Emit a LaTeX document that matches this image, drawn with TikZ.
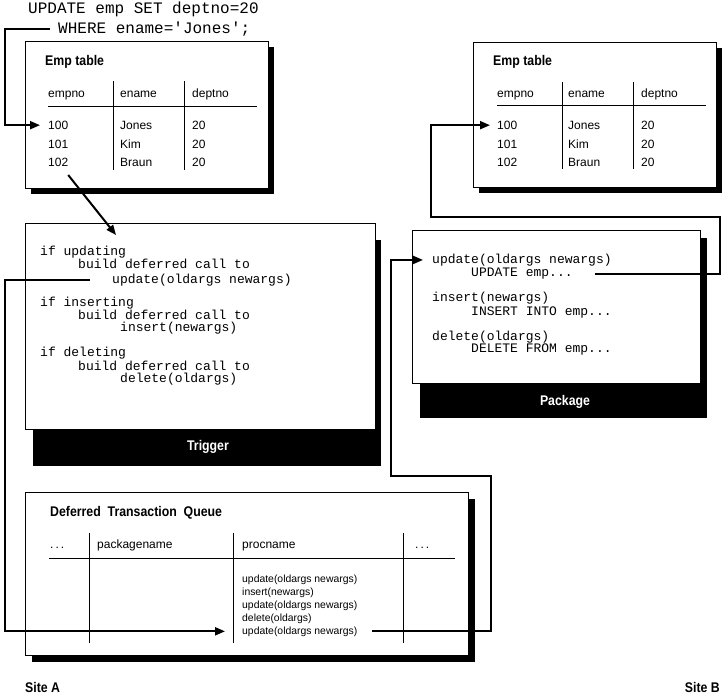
\documentclass[tikz,border=0pt]{standalone}
\usepackage{fontspec}
\setmainfont{Liberation Sans}
\setmonofont{Liberation Mono}
\newfontfamily\bcond[FakeStretch=0.88]{Liberation Sans Bold}
\usetikzlibrary{arrows.meta}
\begin{document}
\begin{tikzpicture}[x=1pt,y=-1pt,
  box/.style={draw=black,line width=0.8pt,fill=white},
  shade/.style={fill=black},
  grid/.style={line width=0.8pt},
  conn/.style={line width=2pt},
  arr/.style={-{Triangle[length=10pt,width=8pt]}},
  sql/.style={font=\ttfamily\fontsize{16}{16}\selectfont,inner sep=0pt,anchor=base west},
  code/.style={font=\ttfamily\fontsize{13}{13}\selectfont,inner sep=0pt,anchor=base west},
  tab/.style={font=\fontsize{12}{12}\selectfont,inner sep=0pt,anchor=base west},
  small/.style={font=\fontsize{10.4}{10.4}\selectfont,inner sep=0pt,anchor=base west},
  title/.style={font=\bcond\fontsize{14}{14}\selectfont,inner sep=0pt,anchor=base west},
  lab/.style={font=\bcond\fontsize{14}{14}\selectfont,inner sep=0pt,text=white}]
\useasboundingbox (0,0) rectangle (722,697);

% ---------- SQL statement ----------
\node[sql] (sql1) at (28,13.5) {UPDATE emp SET deptno=20};
\node[sql] (sql2) at (58,33) {WHERE ename='Jones';};

% ---------- Emp table, site A ----------
\fill[shade] (31,47) rectangle (274,194);
\draw[box] (25,41) rectangle (268,188);
\node[title] (ea) at (45,65) {Emp table};
\node[tab] (ah1) at (48,97) {empno};
\node[tab] (ah2) at (120,97) {ename};
\node[tab] (ah3) at (192,97) {deptno};
\node[tab] (a100) at (48,129.3) {100};
\node[tab] (a101) at (48,148.3) {101};
\node[tab] (a102) at (48,166.7) {102};
\node[tab] (aj) at (120,129.3) {Jones};
\node[tab] (ak) at (120,148.3) {Kim};
\node[tab] (ab) at (120,166.7) {Braun};
\node[tab] (ad1) at (192,129.3) {20};
\node[tab] (ad2) at (192,148.3) {20};
\node[tab] (ad3) at (192,166.7) {20};
\draw[grid] (48,106) -- (257,106);
\draw[grid] (113,81) -- (113,170);
\draw[grid] (184,81) -- (184,170);

% ---------- Emp table, site B ----------
\fill[shade] (479,48) rectangle (722,193);
\draw[box] (473,42) rectangle (716,187);
\node[title] (eb) at (493,65) {Emp table};
\node[tab] (bh1) at (497,97) {empno};
\node[tab] (bh2) at (568,97) {ename};
\node[tab] (bh3) at (641,97) {deptno};
\node[tab] (b100) at (497,129.3) {100};
\node[tab] (b101) at (497,148.3) {101};
\node[tab] (b102) at (497,166.7) {102};
\node[tab] (bj) at (568,129.3) {Jones};
\node[tab] (bk) at (568,148.3) {Kim};
\node[tab] (bb) at (568,166.7) {Braun};
\node[tab] (bd1) at (641,129.3) {20};
\node[tab] (bd2) at (641,148.3) {20};
\node[tab] (bd3) at (641,166.7) {20};
\draw[grid] (497,105) -- (706,105);
\draw[grid] (562,82) -- (562,169);
\draw[grid] (633,82) -- (633,169);

% ---------- Trigger ----------
\fill[shade] (33,240) rectangle (381,466);
\draw[box] (25,223) rectangle (375,429);
\node[lab] (trig) at (208,447) {Trigger};
\node[code] (t1) at (40,255) {if updating};
\node[code] (t2) at (78,268.3) {build deferred call to};
\node[code] (tupd) at (112,283.3) {update(oldargs newargs)};
\node[code] (t4) at (40,306) {if inserting};
\node[code] (t5) at (78,319.3) {build deferred call to};
\node[code] (t6) at (120,331.7) {insert(newargs)};
\node[code] (t7) at (40,356.7) {if deleting};
\node[code] (t8) at (78,370) {build deferred call to};
\node[code] (t9) at (120,382.7) {delete(oldargs)};

% ---------- Package ----------
\fill[shade] (420,238) rectangle (707,418);
\draw[box] (412,230) rectangle (700,383);
\node[lab] (pkg) at (565,402) {Package};
\node[code] (pk1) at (432,263.3) {update(oldargs newargs)};
\node[code] (pkupd) at (471,276.7) {UPDATE emp...};
\node[code] (pk3) at (432,301.7) {insert(newargs)};
\node[code] (pk4) at (471,315) {INSERT INTO emp...};
\node[code] (pk5) at (432,340) {delete(oldargs)};
\node[code] (pk6) at (471,352.7) {DELETE FROM emp...};

% ---------- Deferred Transaction Queue ----------
\fill[shade] (32,499) rectangle (475,662);
\draw[box] (25,492) rectangle (468,655);
\node[title] (dq) at (50,516.7) {Deferred~~Transaction~~Queue};
\node[tab] (qh1) at (50,548) {.\,.\,.};
\node[tab] (qh2) at (97,548) {packagename};
\node[tab] (qh3) at (242,548) {procname};
\node[tab] (qh4) at (415,548) {.\,.\,.};
\draw[grid] (49,558) -- (455,558);
\draw[grid] (89,533) -- (89,643);
\draw[grid] (233,533) -- (233,643);
\draw[grid] (403,533) -- (403,643);
\node[small] (q1) at (242,582) {update(oldargs newargs)};
\node[small] (q2) at (242,595) {insert(newargs)};
\node[small] (q3) at (242,608) {update(oldargs newargs)};
\node[small] (q4) at (242,621) {delete(oldargs)};
\node[small] (q5) at (242,634) {update(oldargs newargs)};

% ---------- Site labels ----------
\node[title] (sa) at (25,692) {Site A};
\node[title,anchor=base east] (sb) at (720,692) {Site B};

% ---------- Connectors ----------
\coordinate (lft) at (5,0);
\coordinate (rb) at (720,217);
\coordinate (lb) at (431,217);
\coordinate (qa) at (491,476);
\coordinate (qb) at (391,476);
\coordinate (diagtip) at (116,235);

\draw[conn,arr] ([xshift=-8pt]sql2.west) -- (sql2.west -| lft) |- ([xshift=-8pt]a100.west);
\draw[conn,arr] ([xshift=10pt,yshift=-8pt]a102.south) -- (diagtip);
\draw[conn,arr] ([xshift=-22pt]tupd.west) -- (tupd.west -| lft) |- ([xshift=-17pt]q5.west);
\draw[conn,arr] ([xshift=15pt]q5.east) -| (qa) -- (qb) |- ([xshift=-9pt]pk1.west);
\draw[conn,arr] ([xshift=22pt]pkupd.east) -| (rb) -- (lb) |- ([xshift=-7pt]b100.west);
\end{tikzpicture}
\end{document}
